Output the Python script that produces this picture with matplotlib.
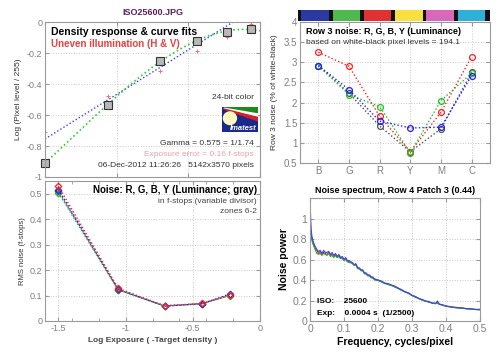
"""Imatest style summary: density response, row noise, f-stop noise and noise spectrum."""
import numpy as np
import matplotlib
matplotlib.use("Agg")
import matplotlib.pyplot as plt
from matplotlib.patches import Rectangle, Polygon, Ellipse

plt.rcParams["font.family"] = ["Liberation Sans", "DejaVu Sans"]

GRAY = "#7f7f7f"
SPINE = "#9a9a9a"
DOTS = (0, (1, 1.6))

# --- density response (top left)
log_exposure = [-1.5, -1.06, -0.70, -0.44, -0.23, -0.06]
log_pixel = [-0.91, -0.535, -0.25, -0.12, -0.065, -0.045]
log_pixel_uneven = [-0.71, -0.48, -0.315, -0.19, -0.097, -0.015]
gamma = 0.575
gamma_intercept = 0.108

# --- row 3 noise (top right)
patches = ["B", "G", "R", "Y", "M", "C"]
patch_colors = ["#2a3aa0", "#4fb84f", "#e03232", "#f8e040", "#d868b8", "#2eb0d8"]
row_noise_r = [3.25, 2.90, 1.66, 0.78, 1.76, 3.14]
row_noise_g = [2.91, 2.20, 1.90, 0.75, 2.05, 2.73]
row_noise_b = [2.92, 2.32, 1.54, 1.37, 1.39, 2.67]
row_noise_y = [2.92, 2.23, 1.42, 0.78, 1.35, 2.75]

# --- noise in f-stops (bottom left)
zone_exposure = [-1.5, -1.055, -0.71, -0.43, -0.225]
fstop_noise_r = [0.529, 0.128, 0.060, 0.069, 0.102]
fstop_noise_g = [0.503, 0.122, 0.059, 0.068, 0.100]
fstop_noise_b = [0.516, 0.124, 0.058, 0.068, 0.106]
fstop_noise_y = [0.510, 0.123, 0.059, 0.068, 0.101]

# --- noise spectrum (bottom right)
freq = [0, 0.003, 0.006, 0.01, 0.015, 0.02, 0.025, 0.03, 0.035, 0.04, 0.045,
        0.05, 0.055, 0.06, 0.065, 0.07, 0.075, 0.08, 0.085, 0.09, 0.095, 0.1,
        0.105, 0.11, 0.115, 0.12, 0.125, 0.13, 0.135, 0.14, 0.145, 0.15, 0.155,
        0.16, 0.165, 0.17, 0.175, 0.18, 0.185, 0.19, 0.2, 0.21, 0.22, 0.23,
        0.24, 0.25, 0.26, 0.27, 0.28, 0.29, 0.3, 0.31, 0.32, 0.33, 0.34, 0.35,
        0.36, 0.37, 0.375, 0.38, 0.39, 0.4, 0.41, 0.42, 0.43, 0.44, 0.45, 0.46,
        0.47, 0.48, 0.49, 0.5]
spec_b = [1.20, 0.90, 0.82, 0.77, 0.73, 0.70, 0.68, 0.69, 0.66, 0.69, 0.67,
          0.67, 0.68, 0.65, 0.67, 0.64, 0.66, 0.63, 0.65, 0.62, 0.63, 0.60,
          0.62, 0.59, 0.59, 0.58, 0.57, 0.55, 0.56, 0.52, 0.52, 0.50, 0.50,
          0.47, 0.47, 0.45, 0.45, 0.43, 0.43, 0.41, 0.40, 0.39, 0.37, 0.365,
          0.35, 0.34, 0.32, 0.305, 0.285, 0.275, 0.25, 0.24, 0.22, 0.21, 0.195,
          0.19, 0.175, 0.175, 0.195, 0.165, 0.158, 0.147, 0.142, 0.136, 0.133,
          0.129, 0.127, 0.121, 0.12, 0.116, 0.113, 0.115]
spec_r = [1.08, 0.86, 0.80, 0.75, 0.71, 0.69, 0.66, 0.68, 0.65, 0.67, 0.66,
          0.65, 0.67, 0.64, 0.65, 0.63, 0.65, 0.62, 0.64, 0.61, 0.62, 0.60,
          0.61, 0.58, 0.58, 0.57, 0.56, 0.55, 0.55, 0.52, 0.51, 0.50, 0.49,
          0.47, 0.46, 0.45, 0.44, 0.43, 0.42, 0.41, 0.40, 0.385, 0.37, 0.36,
          0.35, 0.335, 0.32, 0.30, 0.285, 0.27, 0.25, 0.235, 0.22, 0.205,
          0.195, 0.185, 0.175, 0.17, 0.18, 0.165, 0.155, 0.145, 0.14, 0.135,
          0.13, 0.128, 0.125, 0.12, 0.118, 0.115, 0.112, 0.11]
spec_g = [1.00, 0.84, 0.78, 0.74, 0.70, 0.66, 0.65, 0.66, 0.64, 0.66, 0.65,
          0.64, 0.66, 0.63, 0.64, 0.62, 0.64, 0.62, 0.63, 0.61, 0.61, 0.59,
          0.60, 0.58, 0.57, 0.57, 0.56, 0.54, 0.55, 0.51, 0.51, 0.49, 0.49,
          0.46, 0.46, 0.44, 0.44, 0.42, 0.42, 0.40, 0.395, 0.38, 0.365, 0.355,
          0.345, 0.33, 0.315, 0.298, 0.282, 0.268, 0.248, 0.232, 0.218, 0.203,
          0.193, 0.183, 0.173, 0.168, 0.175, 0.162, 0.153, 0.143, 0.138, 0.133,
          0.128, 0.126, 0.123, 0.118, 0.116, 0.113, 0.11, 0.108]


def style_axes(ax, labelsize=6.5):
    ax.tick_params(direction="in", top=True, right=True, length=3,
                   colors=SPINE, labelcolor=GRAY, labelsize=labelsize, pad=2)
    ax.tick_params(which="minor", direction="in", top=True, right=True,
                   length=2, colors=SPINE)
    for s in ax.spines.values():
        s.set_color(SPINE)
        s.set_linewidth(0.8)
    ax.grid(True, linestyle=":", color="#c8c8c8", linewidth=0.7)
    ax.set_axisbelow(True)


fig = plt.figure(figsize=(5, 3.53), dpi=100)
fig.text(0.305, 0.966, "ISO25600.JPG", color="#5a2060", fontsize=6.5,
         fontweight="bold", ha="center", va="center")

# ---------------- top left: density response
ax1 = fig.add_axes([0.09, 0.4986, 0.43, 0.439])
style_axes(ax1)
x_fit = np.linspace(-1.5, 0, 200)
ax1.plot(x_fit, gamma * x_fit + gamma_intercept, linestyle=DOTS,
         color="#3a3aff", lw=1.0)
coef = np.polyfit(log_exposure, log_pixel, 3)
ax1.plot(x_fit, np.polyval(coef, x_fit), linestyle=DOTS, color="#2ed02e", lw=1.2)
ax1.plot(log_exposure, log_pixel_uneven, "+", color="#f07070", ms=3.5, mew=0.7)
ax1.plot(log_exposure, log_pixel, "s", ms=5.5, mfc="#b8b8b8", mec="#333333",
         mew=0.8, clip_on=False)
ax1.set_xlim(-1.5, 0)
ax1.set_ylim(-1, 0)
ax1.set_xticks([-1.5, -1, -0.5, 0])
ax1.set_xticklabels([])
ax1.set_yticks(np.arange(-1, 0.01, 0.2))
ax1.set_yticklabels(["-1", "-0.8", "-0.6", "-0.4", "-0.2", "0"])
ax1.set_ylabel("Log (Pixel level / 255)", fontsize=6, color="#333333", labelpad=3)
ax1.text(0.03, 0.935, "Density response & curve fits", transform=ax1.transAxes,
         fontsize=7.5, fontweight="bold", va="center")
ax1.text(0.03, 0.86, "Uneven illumination (H & V)", transform=ax1.transAxes,
         fontsize=7, fontweight="bold", color="#e84040", va="center")
ax1.text(0.97, 0.51, "24-bit color", transform=ax1.transAxes, fontsize=6,
         ha="right", va="center", color="#333333")
ax1.text(0.97, 0.215, "Gamma = 0.575 = 1/1.74", transform=ax1.transAxes,
         fontsize=6, ha="right", va="center", color="#333333")
ax1.text(0.97, 0.145, "Exposure error = 0.16 f-stops", transform=ax1.transAxes,
         fontsize=6, ha="right", va="center", color="#f0a0a0")
ax1.text(0.97, 0.075, "06-Dec-2012 11:26:26   5142x3570 pixels",
         transform=ax1.transAxes, fontsize=6, ha="right", va="center",
         color="#333333")

# Imatest logo
logo = fig.add_axes([0.444, 0.626, 0.072, 0.071])
logo.set_xlim(0, 1)
logo.set_ylim(0, 1)
logo.axis("off")
logo.add_patch(Rectangle((0, 0), 1, 1, color="#1a2a8a"))
logo.add_patch(Polygon([[0.05, 0.98], [1, 0.98], [1, 0.72]], color="#1e8a1e"))
logo.add_patch(Polygon([[0.05, 0.95], [1, 0.72], [1, 0.55]], color="#ffffff"))
logo.add_patch(Polygon([[0.05, 0.92], [1, 0.58], [1, 0.45]], color="#d82020"))
logo.add_patch(Ellipse((0.22, 0.55), 0.36, 0.5, color="#fff8c0"))
logo.text(0.58, 0.16, "Imatest", color="white", fontsize=5.5, style="italic",
          fontweight="bold", ha="center", va="center")

# ---------------- top right: row 3 noise
pos = np.arange(1, len(patches) + 1)
ax2 = fig.add_axes([0.6, 0.5382, 0.38, 0.3994])
style_axes(ax2)
for vals, c in [(row_noise_y, "#505050"), (row_noise_r, "#ff2020"),
                (row_noise_g, "#20c020"), (row_noise_b, "#2020ff")]:
    ax2.plot(pos, vals, linestyle=DOTS, color=c, lw=1.0, marker="o", ms=4.2,
             mfc="none", mec=c, mew=0.9)
ax2.set_xlim(0.4, 6.6)
ax2.set_ylim(0.5, 4)
ax2.set_xticks(pos)
ax2.set_xticklabels(patches)
ax2.set_yticks(np.arange(0.5, 4.01, 0.5))
ax2.set_yticklabels(["0.5", "1", "1.5", "2", "2.5", "3", "3.5", "4"])
ax2.tick_params(labelsize=7)
ax2.set_ylabel("Row 3 noise (% of white-black)", fontsize=6, color="#333333",
               labelpad=4)
ax2.text(0.03, 0.935, "Row 3 noise: R, G, B, Y (Luminance)",
         transform=ax2.transAxes, fontsize=6.5, fontweight="bold", va="center")
ax2.text(0.03, 0.855, "based on white-black pixel levels = 194.1",
         transform=ax2.transAxes, fontsize=6, va="center", color="#333333")

bar = fig.add_axes([0.596, 0.9405, 0.384, 0.031])
bar.set_facecolor("#111111")
bar.bar(pos, [1] * len(pos), width=0.88, color=patch_colors)
bar.set_xlim(0.45, 6.6)
bar.set_ylim(0, 1)
bar.set_xticks([])
bar.set_yticks([])
for s in bar.spines.values():
    s.set_visible(False)

# ---------------- bottom left: noise in f-stops
ax3 = fig.add_axes([0.09, 0.0907, 0.43, 0.3966])
style_axes(ax3)
for vals, c in [(fstop_noise_y, "#505050"), (fstop_noise_g, "#20b020"),
                (fstop_noise_b, "#2020ff"), (fstop_noise_r, "#ff2020")]:
    ax3.plot(zone_exposure, vals, linestyle=DOTS, color=c, lw=1.0, marker="D",
             ms=3.3, mfc="none", mec=c, mew=0.9)
ax3.set_xlim(-1.6, 0)
ax3.set_ylim(0, 0.55)
ax3.set_xticks([-1.5, -1, -0.5, 0])
ax3.set_xticklabels(["-1.5", "-1", "-0.5", "0"])
ax3.set_xticks(np.arange(-1.4, -0.1, 0.2), minor=True)
ax3.set_yticks(np.arange(0, 0.51, 0.1))
ax3.set_yticklabels(["0", "0.1", "0.2", "0.3", "0.4", "0.5"])
ax3.set_ylabel("RMS noise (f-stops)", fontsize=5.5, color="#333333", labelpad=3)
ax3.set_xlabel("Log Exposure ( -Target density )", fontsize=6, color="#444444",
               fontweight="bold", labelpad=3)
ax3.text(0.985, 0.935, "Noise: R, G, B, Y (Luminance; gray)",
         transform=ax3.transAxes, fontsize=7, fontweight="bold", ha="right",
         va="center")
ax3.text(0.985, 0.85, "in f-stops (variable divisor)", transform=ax3.transAxes,
         fontsize=6, ha="right", va="center", color="#444444")
ax3.text(0.985, 0.78, "zones 6-2", transform=ax3.transAxes, fontsize=6,
         ha="right", va="center", color="#444444")

# ---------------- bottom right: noise spectrum
ax4 = fig.add_axes([0.62, 0.0907, 0.34, 0.348])
style_axes(ax4, labelsize=7.5)
ax4.plot(freq, spec_r, color="#e02020", lw=0.8)
ax4.plot(freq, spec_g, color="#20b020", lw=0.8)
ax4.plot(freq, spec_b, color="#4040ff", lw=0.8)
ax4.set_xlim(0, 0.5)
ax4.set_ylim(0, 1.2)
ax4.set_xticks(np.arange(0, 0.51, 0.1))
ax4.set_xticklabels(["0", "0.1", "0.2", "0.3", "0.4", "0.5"])
ax4.set_yticks(np.arange(0, 1.01, 0.2))
ax4.set_yticklabels(["0", "0.2", "0.4", "0.6", "0.8", "1"])
ax4.set_title("Noise spectrum, Row 4 Patch 3 (0.44)", fontsize=6.5,
              fontweight="bold", pad=4)
ax4.set_xlabel("Frequency, cycles/pixel", fontsize=7.5, fontweight="bold",
               labelpad=2)
ax4.set_ylabel("Noise power", fontsize=7.5, fontweight="bold", labelpad=3)
ax4.text(0.04, 0.155, "ISO:    25600", transform=ax4.transAxes, fontsize=6,
         fontweight="bold", va="center")
ax4.text(0.04, 0.06, "Exp:    0.0004 s  (1/2500)", transform=ax4.transAxes,
         fontsize=6, fontweight="bold", va="center")

fig.savefig("out.png", dpi=100)
